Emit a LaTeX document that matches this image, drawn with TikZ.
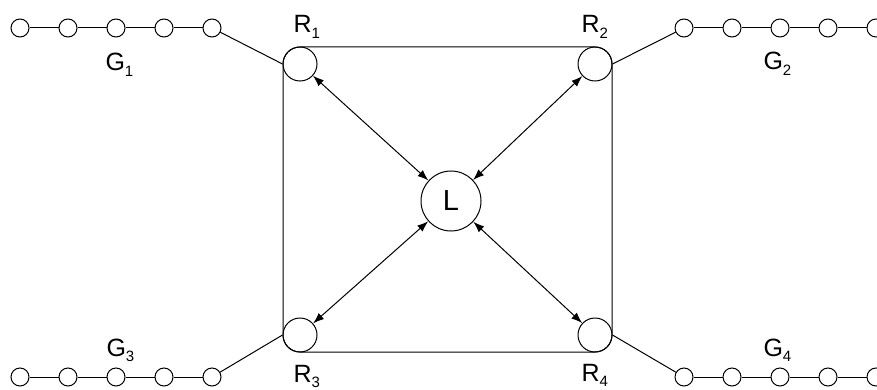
\documentclass[tikz,border=0pt]{standalone}
\usepackage{fontspec}
\setmainfont{Liberation Sans}
\usetikzlibrary{arrows.meta}
\newcommand{\idx}[1]{\raisebox{-0.22em}{\fontsize{15}{15}\selectfont #1}}

\begin{document}
\begin{tikzpicture}[
	x=1pt, y=-1pt,
	line width=1pt,
	bead/.style = {draw, circle, minimum size=18pt, inner sep=0pt},
	router/.style = {draw, circle, minimum size=34pt, inner sep=0pt},
	leader/.style = {draw, circle, minimum size=60pt, inner sep=0pt, font=\fontsize{29}{29}\selectfont},
	tag/.style = {anchor=base west, inner sep=0pt, font=\fontsize{25}{25}\selectfont},
	arrow/.style={{Latex[length=11pt, width=8pt]}-{Latex[length=11pt, width=8pt]}}
	]
	\useasboundingbox (0,0) rectangle (877,390);
	
	% box round the routers
	\draw[rounded corners=17pt] (283,47) rectangle (612,352);
	
	\node[router] (R1) at (300,64) {};
	\node[router] (R2) at (595,64) {};
	\node[router] (R3) at (300,335) {};
	\node[router] (R4) at (595,335) {};
	\node[leader] (L) at (451,201) {L};
	
	% the four groups
	\foreach \i in {1,...,5} {
		\node[bead] (a\i) at ({20+48*(\i-1)},28) {};
		\node[bead] (b\i) at ({684+48*(\i-1)},28) {};
		\node[bead] (c\i) at ({20+48*(\i-1)},377) {};
		\node[bead] (d\i) at ({684+48*(\i-1)},377) {};
	}
	\foreach \i [count=\j from 2] in {1,...,4} {
		\draw (a\i) -- (a\j);
		\draw (b\i) -- (b\j);
		\draw (c\i) -- (c\j);
		\draw (d\i) -- (d\j);
	}
	
	\draw (a5) -- (R1.west);
	\draw (R2.east) -- (b1);
	\draw (c5) -- (R3.west);
	\draw (R4.east) -- (d1);
	
	\draw[arrow] (R1) -- (L);
	\draw[arrow] (R2) -- (L);
	\draw[arrow] (R3) -- (L);
	\draw[arrow] (R4) -- (L);
	
	\node[tag] (r1) at (293,33) {R\idx{1}};
	\node[tag] (r2) at (581,33) {R\idx{2}};
	\node[tag] (r3) at (293,382) {R\idx{3}};
	\node[tag] (r4) at (581,381) {R\idx{4}};
	\node[tag] (g1) at (105,71) {G\idx{1}};
	\node[tag] (g2) at (763,70) {G\idx{2}};
	\node[tag] (g3) at (106,356) {G\idx{3}};
	\node[tag] (g4) at (763,356) {G\idx{4}};
\end{tikzpicture}
\end{document}
